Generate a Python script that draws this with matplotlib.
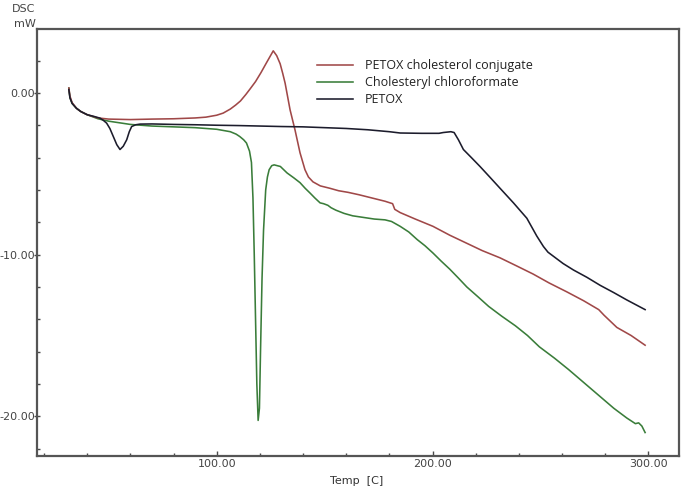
import matplotlib
matplotlib.use("Agg")
import matplotlib.pyplot as plt
from matplotlib.ticker import MultipleLocator, FormatStrFormatter

# ---- data ----
t_conj = [31.5, 32.0, 33.0, 35.0, 37.0, 40.0, 45.0, 50.0, 60.0, 70.0, 80.0, 90.0, 95.0,
          100.0, 103.0, 106.3, 108.8, 111.0, 113.5, 115.5, 118.0, 120.5, 122.8, 124.5,
          126.2, 127.8, 129.4, 130.6, 131.7, 134.0, 136.3, 138.6, 140.9, 142.5, 144.6,
          148.0, 152.5, 156.5, 160.9, 166.0, 172.0, 178.0, 181.5, 182.5, 185.0, 192.0,
          200.2, 208.0, 215.9, 223.0, 231.3, 239.0, 246.6, 254.0, 262.2, 270.0, 277.0,
          279.5, 285.4, 292.0, 298.5]
dsc_conj = [0.3, -0.2, -0.6, -0.95, -1.15, -1.35, -1.55, -1.62, -1.65, -1.62, -1.6, -1.55, -1.5,
            -1.38, -1.25, -1.0, -0.75, -0.5, -0.1, 0.25, 0.7, 1.25, 1.8, 2.2,
            2.6, 2.3, 1.8, 1.2, 0.6, -1.05, -2.3, -3.7, -4.75, -5.2, -5.5,
            -5.75, -5.9, -6.05, -6.15, -6.3, -6.5, -6.7, -6.85, -7.2, -7.4, -7.8,
            -8.25, -8.8, -9.3, -9.75, -10.2, -10.7, -11.2, -11.75, -12.3, -12.85, -13.4,
            -13.75, -14.5, -15.0, -15.6]

t_chol = [31.5, 32.0, 33.0, 35.0, 37.0, 40.0, 45.0, 50.0, 55.0, 60.0, 70.0, 80.0, 90.0,
          100.0, 106.3, 109.0, 110.7, 112.5, 113.8, 115.2, 116.1, 116.8, 117.4, 118.0,
          118.6, 119.2, 119.8, 120.3, 121.0, 121.7, 122.7, 123.5, 124.3, 125.5, 126.6,
          129.5, 132.6, 135.7, 138.6, 141.0, 143.3, 145.5, 147.9, 149.5, 151.5, 153.0,
          155.2, 159.0, 163.0, 168.0, 173.0, 178.0, 181.0, 185.0, 189.0, 192.9, 196.5,
          200.2, 204.0, 208.0, 212.0, 215.9, 221.0, 226.0, 232.0, 238.4, 244.0, 249.5,
          256.5, 263.0, 270.0, 277.0, 284.0, 290.0, 294.0, 295.5, 297.0, 298.5]
dsc_chol = [0.3, -0.3, -0.65, -0.95, -1.15, -1.35, -1.6, -1.75, -1.85, -1.95, -2.05, -2.1, -2.15,
            -2.25, -2.4, -2.55, -2.7, -2.9, -3.1, -3.6, -4.3, -6.5, -10.0, -14.0,
            -18.0, -20.25, -19.5, -16.0, -11.5, -8.5, -6.0, -5.2, -4.75, -4.5, -4.45,
            -4.55, -4.95, -5.25, -5.55, -5.9, -6.2, -6.5, -6.8, -6.85, -6.95, -7.1,
            -7.25, -7.45, -7.6, -7.7, -7.8, -7.85, -7.95, -8.25, -8.6, -9.07, -9.45,
            -9.9, -10.4, -10.9, -11.45, -12.0, -12.6, -13.2, -13.8, -14.4, -15.0, -15.7,
            -16.4, -17.1, -17.9, -18.7, -19.5, -20.1, -20.45, -20.4, -20.6, -21.0]

t_petox = [31.5, 32.0, 33.0, 35.0, 37.0, 40.0, 43.0, 45.9, 47.5, 49.0, 50.5, 52.1, 53.7,
           55.2, 56.7, 58.3, 59.5, 60.6, 62.5, 64.5, 70.0, 80.0, 90.0, 100.0, 110.0,
           120.0, 130.0, 140.0, 150.0, 160.0, 170.0, 180.0, 185.0, 195.0, 203.0, 205.0,
           208.5, 210.0, 212.0, 214.3, 218.0, 222.0, 226.5, 231.3, 237.5, 243.7, 246.0,
           248.3, 251.4, 253.5, 256.0, 260.5, 265.3, 271.5, 277.7, 284.0, 290.0, 298.5]
dsc_petox = [0.2, -0.3, -0.65, -0.95, -1.15, -1.35, -1.45, -1.56, -1.7, -1.87, -2.2, -2.7, -3.2,
             -3.5, -3.3, -2.9, -2.4, -2.08, -1.97, -1.93, -1.92, -1.95, -1.97, -2.0, -2.02,
             -2.05, -2.08, -2.1, -2.15, -2.2, -2.28, -2.4, -2.48, -2.5, -2.5, -2.45,
             -2.4, -2.45, -2.9, -3.5, -4.0, -4.55, -5.2, -5.9, -6.8, -7.75, -8.3,
             -8.85, -9.5, -9.85, -10.1, -10.55, -10.95, -11.4, -11.9, -12.35, -12.8, -13.4]

labels = ["PETOX cholesterol conjugate", "Cholesteryl chloroformate", "PETOX"]
colors = ["#a04848", "#3a7d3a", "#1c1c2c"]

# ---- figure ----
W, H = 685, 492
fig = plt.figure(figsize=(W / 100, H / 100), dpi=100)
ax = fig.add_axes([36.7 / W, 1 - 456 / H, (679 - 36.7) / W, (456 - 29) / H])

l_chol, = ax.plot(t_chol, dsc_chol, color=colors[1], lw=1.15)
l_conj, = ax.plot(t_conj, dsc_conj, color=colors[0], lw=1.15)
l_petox, = ax.plot(t_petox, dsc_petox, color=colors[2], lw=1.15)

ax.set_xlim(16.6, 314.2)
ax.set_ylim(-22.45, 3.95)

ax.xaxis.set_major_locator(MultipleLocator(100))
ax.xaxis.set_minor_locator(MultipleLocator(20))
ax.yaxis.set_major_locator(MultipleLocator(10))
ax.yaxis.set_minor_locator(MultipleLocator(2))
ax.xaxis.set_major_formatter(FormatStrFormatter("%.2f"))
ax.yaxis.set_major_formatter(FormatStrFormatter("%.2f"))

tick_col = "#4a4a4a"
ax.tick_params(axis="x", which="major", direction="in", length=3.5, width=1,
               color=tick_col, labelsize=8, labelcolor="#444444", pad=2)
ax.tick_params(axis="x", which="minor", direction="in", length=2, width=1, color=tick_col)
ax.tick_params(axis="y", which="major", direction="inout", length=4, width=1,
               color=tick_col, labelsize=8, labelcolor="#444444", pad=-1)
ax.tick_params(axis="y", which="minor", direction="in", length=2, width=1, color=tick_col)

for side, sp in ax.spines.items():
    sp.set_color("#555555")
    sp.set_linewidth(1.6)

fig.text(24 / W, 1 - 9 / H, "DSC", ha="center", va="center", fontsize=8, color="#444444")
fig.text(25 / W, 1 - 24 / H, "mW", ha="center", va="center", fontsize=8, color="#444444")
fig.text(357 / W, 1 - 481 / H, "Temp  [C]", ha="center", va="center", fontsize=8, color="#333333")

leg = ax.legend([l_conj, l_chol, l_petox], labels, loc="upper left",
                bbox_to_anchor=(317 / W, 1 - 59.5 / H), bbox_transform=fig.transFigure,
                frameon=False, borderpad=0, borderaxespad=0, handlelength=2.9,
                handletextpad=0.95, labelspacing=0.3,
                prop={"family": "Open Sans", "size": 9})
for txt in leg.get_texts():
    txt.set_color("#222222")

fig.savefig("out.png", dpi=100)
